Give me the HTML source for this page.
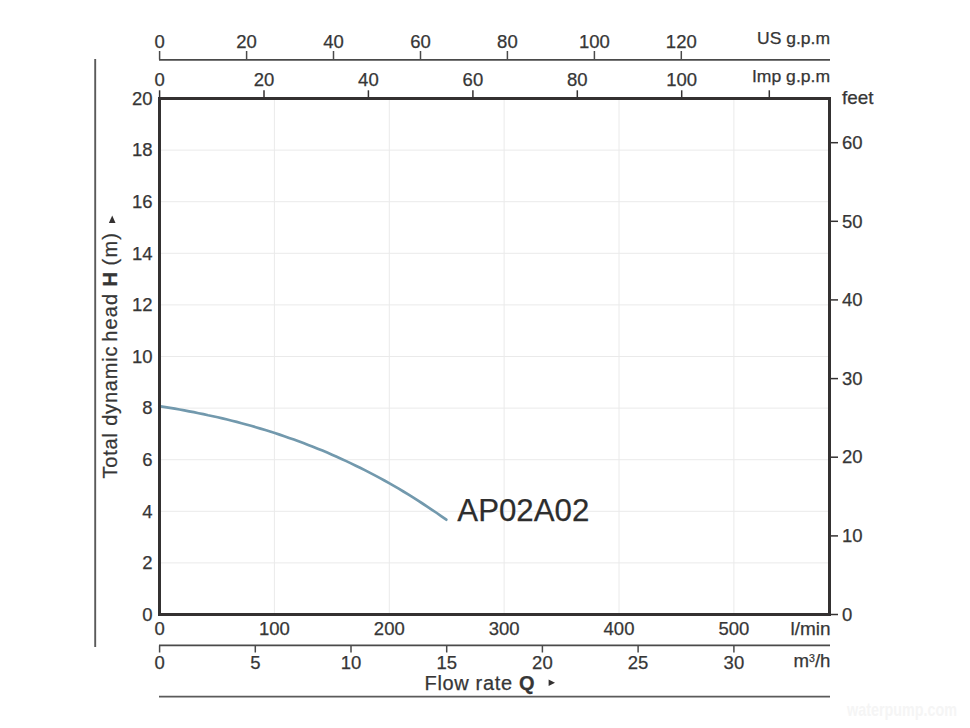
<!DOCTYPE html>
<html><head><meta charset="utf-8"><style>
html,body{margin:0;padding:0;background:#fff;}
body{width:970px;height:728px;overflow:hidden;}
svg{display:block;}
text{font-family:"Liberation Sans",sans-serif;font-size:18.5px;fill:#363636;stroke:#363636;stroke-width:0.25px;}
text.u{font-size:16.5px;}
text.big{font-size:20px;}
text.ap{font-size:31px;fill:#2d2d2d;}
</style></head><body>
<svg width="970" height="728" viewBox="0 0 970 728">
<rect width="970" height="728" fill="#fff"/>
<line x1="274.4" y1="98.5" x2="274.4" y2="614.5" stroke="#eaeaea" stroke-width="1"/>
<line x1="389.3" y1="98.5" x2="389.3" y2="614.5" stroke="#eaeaea" stroke-width="1"/>
<line x1="504.1" y1="98.5" x2="504.1" y2="614.5" stroke="#eaeaea" stroke-width="1"/>
<line x1="619.0" y1="98.5" x2="619.0" y2="614.5" stroke="#eaeaea" stroke-width="1"/>
<line x1="733.9" y1="98.5" x2="733.9" y2="614.5" stroke="#eaeaea" stroke-width="1"/>
<line x1="159.6" y1="562.9" x2="829.5" y2="562.9" stroke="#eaeaea" stroke-width="1"/>
<line x1="159.6" y1="511.3" x2="829.5" y2="511.3" stroke="#eaeaea" stroke-width="1"/>
<line x1="159.6" y1="459.7" x2="829.5" y2="459.7" stroke="#eaeaea" stroke-width="1"/>
<line x1="159.6" y1="408.1" x2="829.5" y2="408.1" stroke="#eaeaea" stroke-width="1"/>
<line x1="159.6" y1="356.5" x2="829.5" y2="356.5" stroke="#eaeaea" stroke-width="1"/>
<line x1="159.6" y1="304.9" x2="829.5" y2="304.9" stroke="#eaeaea" stroke-width="1"/>
<line x1="159.6" y1="253.3" x2="829.5" y2="253.3" stroke="#eaeaea" stroke-width="1"/>
<line x1="159.6" y1="201.7" x2="829.5" y2="201.7" stroke="#eaeaea" stroke-width="1"/>
<line x1="159.6" y1="150.1" x2="829.5" y2="150.1" stroke="#eaeaea" stroke-width="1"/>
<polyline points="160.5,406.4 165.3,407.1 170.0,407.9 174.8,408.7 179.6,409.5 184.3,410.4 189.1,411.3 193.8,412.2 198.6,413.2 203.4,414.1 208.1,415.2 212.9,416.2 217.7,417.3 222.4,418.4 227.2,419.5 231.9,420.7 236.7,421.9 241.5,423.2 246.2,424.5 251.0,425.8 255.8,427.2 260.5,428.6 265.3,430.0 270.1,431.5 274.8,433.0 279.6,434.6 284.3,436.2 289.1,437.9 293.9,439.5 298.6,441.3 303.4,443.1 308.2,444.9 312.9,446.7 317.7,448.7 322.5,450.6 327.2,452.6 332.0,454.7 336.7,456.8 341.5,458.9 346.3,461.1 351.0,463.4 355.8,465.7 360.6,468.0 365.3,470.4 370.1,472.9 374.9,475.4 379.6,477.9 384.4,480.5 389.1,483.2 393.9,485.9 398.7,488.7 403.4,491.5 408.2,494.4 413.0,497.4 417.7,500.4 422.5,503.5 427.2,506.6 432.0,509.8 436.8,513.0 441.5,516.3 446.3,519.7" fill="none" stroke="#7299ad" stroke-width="2.7" stroke-linecap="round"/>
<rect x="159.5" y="98.5" width="670" height="516" fill="none" stroke="#343131" stroke-width="3"/>
<text x="152.5" y="620.7" text-anchor="end">0</text>
<text x="152.5" y="569.1" text-anchor="end">2</text>
<text x="152.5" y="517.5" text-anchor="end">4</text>
<text x="152.5" y="465.9" text-anchor="end">6</text>
<text x="152.5" y="414.3" text-anchor="end">8</text>
<text x="152.5" y="362.7" text-anchor="end">10</text>
<text x="152.5" y="311.1" text-anchor="end">12</text>
<text x="152.5" y="259.5" text-anchor="end">14</text>
<text x="152.5" y="207.9" text-anchor="end">16</text>
<text x="152.5" y="156.3" text-anchor="end">18</text>
<text x="152.5" y="104.7" text-anchor="end">20</text>
<line x1="831" y1="614.5" x2="838" y2="614.5" stroke="#343131" stroke-width="1.5"/>
<text x="842" y="620.7">0</text>
<line x1="831" y1="535.9" x2="838" y2="535.9" stroke="#343131" stroke-width="1.5"/>
<text x="842" y="542.1">10</text>
<line x1="831" y1="457.2" x2="838" y2="457.2" stroke="#343131" stroke-width="1.5"/>
<text x="842" y="463.4">20</text>
<line x1="831" y1="378.6" x2="838" y2="378.6" stroke="#343131" stroke-width="1.5"/>
<text x="842" y="384.8">30</text>
<line x1="831" y1="299.9" x2="838" y2="299.9" stroke="#343131" stroke-width="1.5"/>
<text x="842" y="306.1">40</text>
<line x1="831" y1="221.3" x2="838" y2="221.3" stroke="#343131" stroke-width="1.5"/>
<text x="842" y="227.5">50</text>
<line x1="831" y1="142.7" x2="838" y2="142.7" stroke="#343131" stroke-width="1.5"/>
<text x="842" y="148.9">60</text>
<text x="842" y="104" textLength="31.5" lengthAdjust="spacingAndGlyphs">feet</text>
<line x1="159" y1="59.9" x2="830" y2="59.9" stroke="#4a4a4a" stroke-width="1.7"/>
<line x1="159.6" y1="51" x2="159.6" y2="59.5" stroke="#4a4a4a" stroke-width="1.5"/>
<text x="159.6" y="47.7" text-anchor="middle">0</text>
<line x1="246.6" y1="51" x2="246.6" y2="59.5" stroke="#4a4a4a" stroke-width="1.5"/>
<text x="246.6" y="47.7" text-anchor="middle">20</text>
<line x1="333.5" y1="51" x2="333.5" y2="59.5" stroke="#4a4a4a" stroke-width="1.5"/>
<text x="333.5" y="47.7" text-anchor="middle">40</text>
<line x1="420.5" y1="51" x2="420.5" y2="59.5" stroke="#4a4a4a" stroke-width="1.5"/>
<text x="420.5" y="47.7" text-anchor="middle">60</text>
<line x1="507.4" y1="51" x2="507.4" y2="59.5" stroke="#4a4a4a" stroke-width="1.5"/>
<text x="507.4" y="47.7" text-anchor="middle">80</text>
<line x1="594.4" y1="51" x2="594.4" y2="59.5" stroke="#4a4a4a" stroke-width="1.5"/>
<text x="594.4" y="47.7" text-anchor="middle">100</text>
<line x1="681.3" y1="51" x2="681.3" y2="59.5" stroke="#4a4a4a" stroke-width="1.5"/>
<text x="681.3" y="47.7" text-anchor="middle">120</text>
<text x="830" y="43.8" text-anchor="end" class="u" textLength="73" lengthAdjust="spacingAndGlyphs">US g.p.m</text>
<line x1="159.6" y1="90.3" x2="159.6" y2="98" stroke="#343131" stroke-width="1.5"/>
<text x="159.6" y="86.2" text-anchor="middle">0</text>
<line x1="264.0" y1="90.3" x2="264.0" y2="98" stroke="#343131" stroke-width="1.5"/>
<text x="264.0" y="86.2" text-anchor="middle">20</text>
<line x1="368.4" y1="90.3" x2="368.4" y2="98" stroke="#343131" stroke-width="1.5"/>
<text x="368.4" y="86.2" text-anchor="middle">40</text>
<line x1="472.9" y1="90.3" x2="472.9" y2="98" stroke="#343131" stroke-width="1.5"/>
<text x="472.9" y="86.2" text-anchor="middle">60</text>
<line x1="577.3" y1="90.3" x2="577.3" y2="98" stroke="#343131" stroke-width="1.5"/>
<text x="577.3" y="86.2" text-anchor="middle">80</text>
<line x1="681.7" y1="90.3" x2="681.7" y2="98" stroke="#343131" stroke-width="1.5"/>
<text x="681.7" y="86.2" text-anchor="middle">100</text>
<line x1="769.3" y1="90.3" x2="769.3" y2="98" stroke="#343131" stroke-width="1.5"/>
<text x="830" y="81.8" text-anchor="end" class="u" textLength="78" lengthAdjust="spacingAndGlyphs">Imp g.p.m</text>
<text x="159.6" y="635.3" text-anchor="middle">0</text>
<text x="274.4" y="635.3" text-anchor="middle">100</text>
<text x="389.3" y="635.3" text-anchor="middle">200</text>
<text x="504.1" y="635.3" text-anchor="middle">300</text>
<text x="619.0" y="635.3" text-anchor="middle">400</text>
<text x="733.9" y="635.3" text-anchor="middle">500</text>
<text x="830.5" y="634.8" text-anchor="end" font-size="17.5" textLength="40" lengthAdjust="spacingAndGlyphs">l/min</text>
<line x1="159" y1="645.4" x2="830" y2="645.4" stroke="#4a4a4a" stroke-width="1.7"/>
<line x1="159.6" y1="645.5" x2="159.6" y2="652.5" stroke="#4a4a4a" stroke-width="1.5"/>
<text x="159.6" y="668.8" text-anchor="middle">0</text>
<line x1="255.3" y1="645.5" x2="255.3" y2="652.5" stroke="#4a4a4a" stroke-width="1.5"/>
<text x="255.3" y="668.8" text-anchor="middle">5</text>
<line x1="351.0" y1="645.5" x2="351.0" y2="652.5" stroke="#4a4a4a" stroke-width="1.5"/>
<text x="351.0" y="668.8" text-anchor="middle">10</text>
<line x1="446.7" y1="645.5" x2="446.7" y2="652.5" stroke="#4a4a4a" stroke-width="1.5"/>
<text x="446.7" y="668.8" text-anchor="middle">15</text>
<line x1="542.4" y1="645.5" x2="542.4" y2="652.5" stroke="#4a4a4a" stroke-width="1.5"/>
<text x="542.4" y="668.8" text-anchor="middle">20</text>
<line x1="638.1" y1="645.5" x2="638.1" y2="652.5" stroke="#4a4a4a" stroke-width="1.5"/>
<text x="638.1" y="668.8" text-anchor="middle">25</text>
<line x1="733.9" y1="645.5" x2="733.9" y2="652.5" stroke="#4a4a4a" stroke-width="1.5"/>
<text x="733.9" y="668.8" text-anchor="middle">30</text>
<text x="830.5" y="667" text-anchor="end" font-size="18.5" textLength="37" lengthAdjust="spacingAndGlyphs">m<tspan font-size="10.5" dy="-5.5">3</tspan><tspan dy="5.5">/h</tspan></text>
<text x="424.5" y="689.6" class="big" textLength="110">Flow rate <tspan font-weight="bold">Q</tspan></text>
<polygon points="548.6,679.6 555,682.8 548.6,686" fill="#343131"/>
<line x1="159" y1="696.7" x2="830" y2="696.7" stroke="#5a5a5a" stroke-width="1.7"/>
<line x1="95.2" y1="59" x2="95.2" y2="647" stroke="#5a5a5a" stroke-width="1.9"/>
<text transform="translate(117,478.5) rotate(-90)" class="big" textLength="132">Total dynamic</text>
<text transform="translate(117,341.8) rotate(-90)" class="big" textLength="48">head</text>
<text transform="translate(117.3,286.6) rotate(-90)" class="big" font-size="21.5" font-weight="bold" textLength="14.5" lengthAdjust="spacingAndGlyphs">H</text>
<text transform="translate(117,265.5) rotate(-90)" class="big" textLength="32.5">(m)</text>
<polygon points="108.9,223 112.2,215.4 115.5,223" fill="#343131"/>
<text x="457.3" y="521.2" class="ap" textLength="132" lengthAdjust="spacingAndGlyphs">AP02A02</text>
<text x="847" y="716" font-size="15" font-weight="bold" fill="#f5f5f5" style="fill:#f5f5f5;stroke:none" textLength="110" lengthAdjust="spacingAndGlyphs">waterpump.com</text>
</svg>
</body></html>
